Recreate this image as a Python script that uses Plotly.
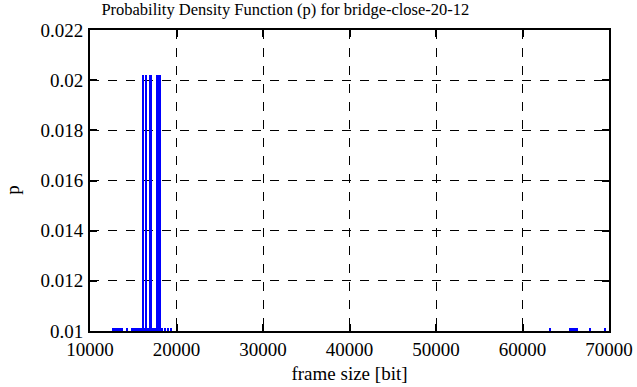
import plotly.graph_objects as go

# Frame sizes [bit] and probability values
tall_sizes = [16185, 16474, 16935, 17055, 17810, 17990, 18170]
tall_p = [0.0202, 0.0202, 0.0202, 0.0202, 0.0202, 0.0202, 0.0202]

low_sizes = [12750, 13040, 13270, 13500, 13730, 14280,
             14880, 15110, 15340, 15570, 15800, 16030, 16330, 16700,
             17250, 17480, 17650, 18400, 18700, 19000, 19380,
             63230, 65560, 65790, 66020, 66270, 67830, 69530]
low_p = [0.0101] * len(low_sizes)

x_ticks = [10000, 20000, 30000, 40000, 50000, 60000, 70000]
x_tick_labels = ["10000", "20000", "30000", "40000", "50000", "60000", "70000"]
y_ticks = [0.01, 0.012, 0.014, 0.016, 0.018, 0.02, 0.022]
y_tick_labels = ["0.01", "0.012", "0.014", "0.016", "0.018", "0.02", "0.022"]

sizes = low_sizes + tall_sizes
probs = low_p + tall_p

FONT = "Liberation Serif"
tfont = dict(family=FONT, size=19, color="black")

fig = go.Figure()
fig.add_trace(go.Bar(
    x=sizes, y=probs, base=0, width=[190] * len(sizes),
    marker=dict(color="#0000ff", line=dict(width=0)),
    showlegend=False, hoverinfo="skip",
))

fig.update_layout(
    template="none",
    width=637, height=387,
    margin=dict(l=90, r=28, t=30, b=56, autoexpand=False),
    paper_bgcolor="white", plot_bgcolor="white",
    font=tfont,
    title=dict(text="Probability Density Function (p) for bridge-close-20-12",
               x=0.448, xanchor="center", y=0.99, yanchor="top",
               font=dict(family=FONT, size=16.5, color="black")),
    bargap=0,
    annotations=[dict(text="p", textangle=-90, xref="paper", yref="paper",
                      x=-0.15, y=0.47, xanchor="center", yanchor="middle",
                      showarrow=False, font=tfont)],
)
axis_common = dict(
    showline=True, linecolor="black", linewidth=2, mirror="ticks",
    ticks="inside", ticklen=7, tickwidth=2, tickcolor="black",
    showgrid=True, gridcolor="black", gridwidth=1, griddash="dash",
    zeroline=False, tickfont=tfont, automargin=False,
)
fig.update_xaxes(range=[10000, 70000], tickvals=x_ticks, ticktext=x_tick_labels,
                 title=dict(text="frame size [bit]", standoff=8, font=tfont),
                 **axis_common)
fig.update_yaxes(range=[0.01, 0.022], tickvals=y_ticks, ticktext=y_tick_labels,
                 ticklabelstandoff=1, **axis_common)

fig.write_html("out.html", config={"displayModeBar": False},
               post_script="document.body.style.margin='0';document.body.style.padding='0';")
